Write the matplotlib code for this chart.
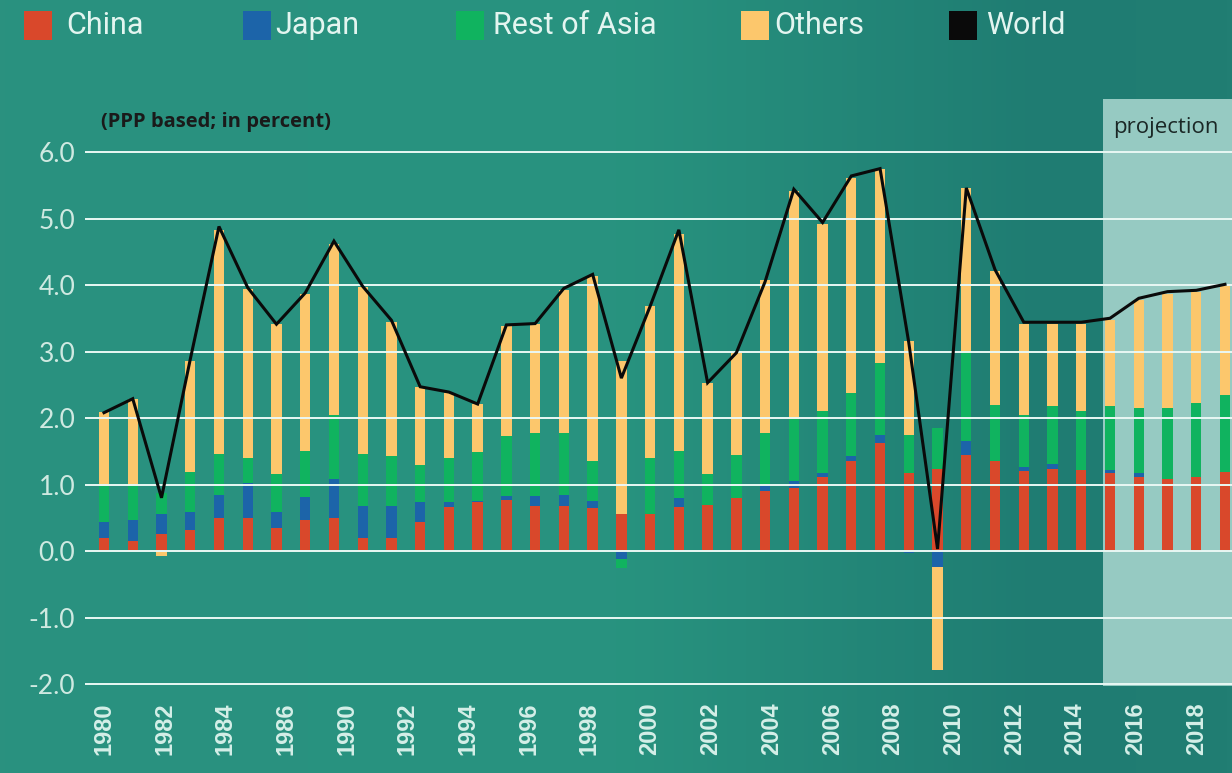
import matplotlib.pyplot as plt
import numpy as np
from matplotlib.colors import LinearSegmentedColormap
from matplotlib.patches import Rectangle

# contributions to world growth (PPP based, percent)
years = np.arange(1980, 2020)
china = [0.20, 0.15, 0.26, 0.32, 0.50, 0.50, 0.35, 0.47, 0.49, 0.19,
         0.19, 0.43, 0.66, 0.74, 0.76, 0.68, 0.67, 0.64, 0.56, 0.56,
         0.66, 0.69, 0.79, 0.90, 0.95, 1.12, 1.36, 1.62, 1.18, 1.24,
         1.44, 1.36, 1.21, 1.24, 1.22, 1.18, 1.11, 1.08, 1.12, 1.19]
japan = [0.24, 0.32, 0.29, 0.27, 0.34, 0.53, 0.23, 0.34, 0.59, 0.48,
         0.49, 0.31, 0.08, 0.01, 0.06, 0.15, 0.17, 0.11, -0.12, 0.00,
         0.14, 0.00, 0.00, 0.10, 0.11, 0.06, 0.07, 0.12, -0.03, -0.24,
         0.21, 0.00, 0.06, 0.07, 0.00, 0.04, 0.06, 0.00, 0.00, 0.00]
rest_of_asia = [0.54, 0.53, 0.32, 0.60, 0.62, 0.37, 0.58, 0.70, 0.97, 0.79,
                0.75, 0.56, 0.66, 0.74, 0.91, 0.95, 0.94, 0.60, -0.13, 0.84,
                0.71, 0.47, 0.66, 0.78, 0.93, 0.93, 0.95, 1.08, 0.57, 0.61,
                1.34, 0.84, 0.77, 0.87, 0.89, 0.96, 0.98, 1.07, 1.11, 1.15]
others = [1.11, 1.29, -0.07, 1.66, 3.36, 2.54, 2.25, 2.35, 2.56, 2.51,
          2.01, 1.17, 0.97, 0.72, 1.66, 1.63, 2.14, 2.78, 2.29, 2.28,
          3.26, 1.37, 1.53, 2.30, 3.42, 2.80, 3.23, 2.93, 1.41, -1.55,
          2.47, 2.01, 1.38, 1.24, 1.31, 1.30, 1.62, 1.72, 1.66, 1.67]
world = [2.08, 2.29, 0.80, 2.88, 4.88, 3.96, 3.41, 3.88, 4.66, 3.98,
         3.47, 2.47, 2.39, 2.21, 3.40, 3.42, 3.95, 4.16, 2.60, 3.68,
         4.83, 2.53, 2.98, 4.05, 5.44, 4.94, 5.64, 5.75, 3.13, 0.03,
         5.46, 4.23, 3.44, 3.44, 3.44, 3.50, 3.80, 3.90, 3.92, 4.01]

series_names = ["China", "Japan", "Rest of Asia", "Others"]
series_colors = ["#d9482b", "#1c64a9", "#10b35f", "#fcc76c"]
world_color = "#0a0a0a"

# x labels as printed on the original (1988 is missing there)
tick_labels = ["1980", "1982", "1984", "1986", "1990", "1992", "1994", "1996",
               "1998", "2000", "2002", "2004", "2006", "2008", "2010", "2012",
               "2014", "2016", "2018"]
y_ticks = [-2.0, -1.0, 0.0, 1.0, 2.0, 3.0, 4.0, 5.0, 6.0]
projection_start = 2014.76

W, H = 1232, 773
fig = plt.figure(figsize=(W / 100, H / 100), dpi=100)

# teal gradient background
bg = fig.add_axes([0, 0, 1, 1], zorder=-10)
cmap = LinearSegmentedColormap.from_list(
    "bg", [(0, "#2a917f"), (0.5, "#28937f"), (0.85, "#1f7c72"), (1, "#217e73")])
bg.imshow(np.linspace(0, 1, 256)[None, :], aspect="auto", cmap=cmap,
          extent=[0, 1, 0, 1])
bg.axis("off")

ax = fig.add_axes([85 / W, (H - 686) / H, (W - 85) / W, (686 - 98.8) / H])
ax.set_facecolor("none")
ax.set_xlim(1979.339, 2019.244)
ax.set_ylim(-2.03, 6.8)

# projection shading
ax.axvspan(projection_start, 2019.244, color="#96cac2", zorder=0.5, lw=0)
ax.text(projection_start + 0.35, 6.28, "projection", fontsize=16,
        family="Open Sans", color="#1b2826", ha="left", va="baseline")

# stacked bars: positives stack up, negatives stack down
pos_base = np.zeros(len(years))
neg_base = np.zeros(len(years))
for vals, color in zip([china, japan, rest_of_asia, others], series_colors):
    v = np.asarray(vals)
    base = np.where(v >= 0, pos_base, neg_base)
    ax.bar(years, v, 0.36, bottom=base, color=color, lw=0, zorder=1)
    pos_base += np.where(v > 0, v, 0)
    neg_base += np.where(v < 0, v, 0)

for y in y_ticks:
    ax.axhline(y, color="#e9f8f4", lw=1.4, zorder=2)

ax.plot(years, world, color=world_color, lw=2.2, zorder=3,
        solid_joinstyle="miter")

ax.text(1979.9, 6.45, "(PPP based; in percent)", fontsize=14.5,
        fontweight="bold", family="Open Sans", color="#1a1a1a",
        ha="left", va="center")

ax.set_yticks(y_ticks)
ax.set_yticklabels([f"{v:.1f}" for v in y_ticks], fontsize=19,
                   family="Lato", color="#cfe9e1")
ax.set_xticks(np.linspace(1980, 2018, len(tick_labels)))
ax.set_xticklabels(tick_labels, rotation=90, fontsize=17, fontweight="bold",
                   family="Liberation Sans", color="#d5efe8")
ax.tick_params(axis="y", length=0, pad=7)
ax.tick_params(axis="x", length=0, pad=12)
for s in ax.spines.values():
    s.set_visible(False)

# legend across the top
leg_sq_x = [24, 243, 456, 741, 949]
leg_txt_x = [66, 275, 493, 774, 986]
leg_names = series_names + ["World"]
leg_colors = series_colors + [world_color]
for sx, tx, name, col in zip(leg_sq_x, leg_txt_x, leg_names, leg_colors):
    fig.add_artist(Rectangle((sx / W, 1 - 40 / H), 28 / W, 29 / H,
                             transform=fig.transFigure, color=col, lw=0))
    fig.text(tx / W, 1 - 26 / H, name, fontsize=22, family="Roboto",
             color="#e3f5f0", ha="left", va="center")

plt.savefig("out.png", dpi=100)
plt.close()
